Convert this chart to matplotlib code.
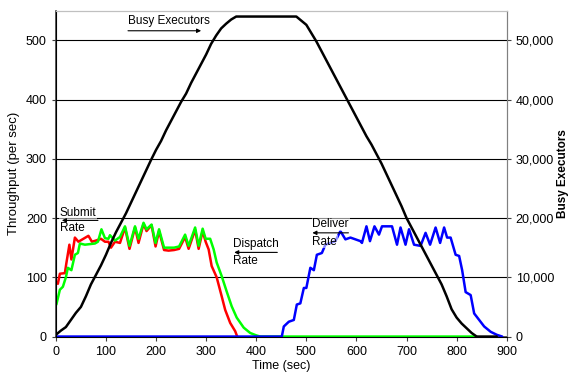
import matplotlib
matplotlib.use("Agg")
import matplotlib.pyplot as plt
from matplotlib.ticker import FuncFormatter
import numpy as np

plt.rcParams['font.family'] = ['Liberation Sans', 'DejaVu Sans']

# Submit rate (red)
submit_t = [4, 8, 18, 21, 27, 31, 38, 45, 55, 65, 72, 80, 90, 98, 105, 110, 118, 128,
            138, 147, 158, 165, 175, 181, 191, 199, 206, 216, 225, 236, 246, 258, 265,
            278, 285, 293, 299, 305, 311, 321, 331, 338, 348, 358, 362]
submit_v = [89, 106, 107, 124, 155, 130, 167, 160, 165, 170, 160, 162, 165, 160, 160, 150,
            160, 158, 184, 148, 184, 158, 190, 178, 188, 152, 178, 146, 145, 146, 148, 168,
            148, 180, 148, 178, 160, 147, 119, 100, 68, 45, 23, 9, 0]

# Dispatch rate (green)
dispatch_t = [1, 8, 14, 20, 24, 31, 38, 44, 48, 58, 78, 84, 91, 98, 105, 108, 118, 128,
              138, 147, 158, 165, 175, 181, 191, 199, 206, 216, 225, 236, 246, 258, 265,
              278, 285, 293, 299, 308, 315, 321, 331, 341, 351, 361, 375, 388, 400, 408, 840]
dispatch_v = [54, 79, 84, 100, 116, 112, 138, 141, 157, 155, 157, 160, 181, 166, 165, 171,
              162, 168, 186, 153, 186, 165, 192, 181, 189, 158, 181, 150, 150, 150, 152, 172,
              153, 184, 153, 182, 165, 165, 147, 125, 102, 76, 51, 32, 15, 6, 2, 0, 0]

# Deliver rate (blue)
deliver_t = [0, 451, 455, 465, 475, 481, 488, 495, 500, 508, 515, 521, 531, 538, 548, 558,
             568, 578, 588, 598, 608, 611, 620, 627, 636, 645, 651, 661, 671, 681, 688, 698,
             705, 715, 728, 738, 747, 758, 767, 775, 781, 788, 798, 805, 811, 818, 828, 835,
             845, 855, 868, 880, 891]
deliver_v = [0, 0, 17, 25, 28, 54, 56, 82, 82, 116, 112, 138, 141, 155, 158, 161,
             178, 164, 167, 164, 161, 158, 186, 161, 186, 172, 186, 186, 186, 155, 184, 155,
             181, 155, 153, 175, 155, 184, 158, 184, 167, 167, 138, 136, 112, 75, 70, 39,
             28, 17, 8, 3, 0]

# Busy executors (black, right axis), every 10 s
busy_t = list(range(0, 890, 10))
busy_v = [300, 1000, 1600, 2800, 4000, 5000, 6800, 8800, 10400, 12000, 13800, 15800,
          17600, 19200, 20800, 22600, 24400, 26200, 28000, 29800, 31500, 33000, 34800,
          36400, 38000, 39600, 41000, 42800, 44400, 46000, 47600, 49400, 50800, 52000,
          52800, 53500, 54000, 54000, 54000, 54000, 54000, 54000, 54000, 54000, 54000,
          54000, 54000, 54000, 54000, 53300, 52600, 51200, 49800, 48200, 46600, 45000,
          43400, 41800, 40200, 38600, 37000, 35400, 33800, 32400, 30800, 29200, 27400,
          25600, 23800, 22000, 20000, 18400, 16800, 15200, 13600, 12000, 10400, 8800,
          6800, 4600, 3200, 2200, 1400, 600, 0, 0, 0, 0, 0]

fig = plt.figure(figsize=(5.7, 3.79), dpi=100)
ax = fig.add_axes([0.098, 0.112, 0.791, 0.86])

style = dict(lw=1.8, solid_joinstyle='round', solid_capstyle='round')
ax.plot(submit_t, submit_v, color='#ff0000', zorder=3, **style)
ax.plot(dispatch_t, dispatch_v, color='#00ff00', zorder=4, **style)
ax.plot(deliver_t, deliver_v, color='#0000ff', zorder=5, **style)

ax.set_xlim(0, 900)
ax.set_ylim(0, 550)
ax.set_xticks(range(0, 901, 100))
ax.set_yticks(range(0, 501, 100))
for y in range(100, 501, 100):
    ax.axhline(y, color='black', lw=0.8, zorder=1)
ax.set_xlabel('Time (sec)', fontsize=9, labelpad=2)
ax.set_ylabel('Throughput (per sec)', fontsize=9.5, labelpad=4)
ax.tick_params(labelsize=9, direction='out', length=3, color='#404040')

ax.spines['left'].set_color('#404040')
ax.spines['bottom'].set_color('#404040')
ax.spines['left'].set_linewidth(1.2)
ax.spines['bottom'].set_linewidth(1.2)
ax.spines['top'].set_color('#c0c0c0')
ax.spines['right'].set_color('#808080')

ax2 = ax.twinx()
ax2.plot(busy_t, busy_v, color='black', **style)
ax2.set_ylim(0, 55000)
ax2.set_yticks(range(0, 50001, 10000))
ax2.yaxis.set_major_formatter(FuncFormatter(lambda v, p: f'{int(v):,}'))
ax2.tick_params(labelsize=9, direction='out', length=3, color='#404040')
ax2.set_ylabel('Busy Executors', fontsize=8.5, fontweight='bold', labelpad=2)
ax2.spines['right'].set_color('#808080')
ax2.spines['top'].set_color('#c0c0c0')

# annotations
arrow = dict(arrowstyle='-|>', lw=0.8, color='black', mutation_scale=6, shrinkA=0, shrinkB=0)
box = dict(facecolor='white', edgecolor='none', alpha=0.55, pad=0.5)

ax.text(144, 533, 'Busy Executors', fontsize=8.5, va='center', ha='left')
ax.annotate('', xy=(290, 516), xytext=(144, 516), arrowprops=arrow)

ax.text(8, 208, 'Submit', fontsize=8.5, va='center', ha='left', bbox=box, zorder=6)
ax.text(8, 183, 'Rate', fontsize=8.5, va='center', ha='left', bbox=box, zorder=6)
ax.annotate('', xy=(12, 196), xytext=(84, 196), arrowprops=arrow, zorder=7)

ax.text(354, 156, 'Dispatch', fontsize=8.5, va='center', ha='left')
ax.text(354, 128, 'Rate', fontsize=8.5, va='center', ha='left')
ax.annotate('', xy=(356, 142), xytext=(442, 142), arrowprops=arrow)

ax.text(512, 190, 'Deliver', fontsize=8.5, va='center', ha='left', bbox=box, zorder=6)
ax.text(512, 160, 'Rate', fontsize=8.5, va='center', ha='left', bbox=box, zorder=6)
ax.annotate('', xy=(512, 175), xytext=(584, 175), arrowprops=arrow, zorder=7)

fig.savefig('out.png', dpi=100)
